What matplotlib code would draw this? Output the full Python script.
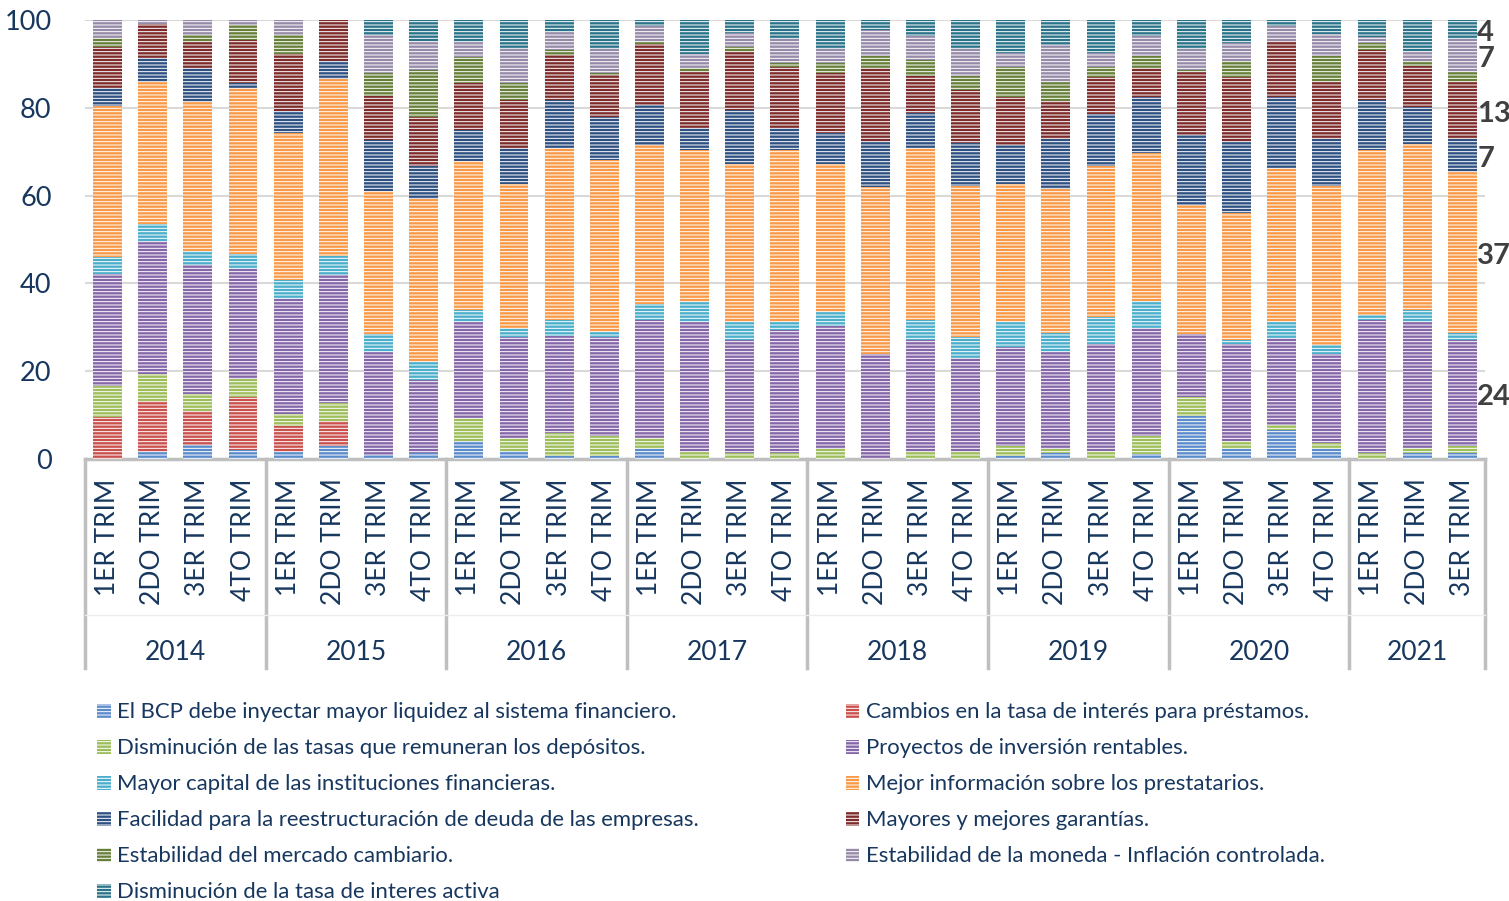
import matplotlib.pyplot as plt
import numpy as np

plt.rcParams['font.family'] = ['Lato', 'DejaVu Sans']
plt.rcParams['hatch.linewidth'] = 0.7

anios = ['2014', '2015', '2016', '2017', '2018', '2019', '2020', '2021']
trims_por_anio = [4, 4, 4, 4, 4, 4, 4, 3]
trimestres = ['1ER TRIM', '2DO TRIM', '3ER TRIM', '4TO TRIM']

series = [
    'El BCP debe inyectar mayor liquidez al sistema financiero.',
    'Cambios en la tasa de interés para préstamos.',
    'Disminución de las tasas que remuneran los depósitos.',
    'Proyectos de inversión rentables.',
    'Mayor capital de las instituciones financieras.',
    'Mejor información sobre los prestatarios.',
    'Facilidad para la reestructuración de deuda de las empresas.',
    'Mayores y mejores garantías.',
    'Estabilidad del mercado cambiario.',
    'Estabilidad de la moneda - Inflación controlada.',
    'Disminución de la tasa de interes activa',
]

# valores (%) por serie, de abajo hacia arriba en la pila
bcp = [0, 1.7, 3.2, 2.1, 1.5, 3.0, 0.8, 1.3, 4.0, 1.9, 0.6, 0.6, 2.3, 0, 0, 0,
       0, 0, 0, 0, 0.6, 1.3, 0, 1.1, 9.7, 2.3, 6.7, 2.3, 0, 1.3, 1.3]
tasa_prestamos = [9.5, 11.5, 7.7, 12.0, 6.1, 5.6, 0, 0, 0, 0, 0, 0, 0, 0, 0, 0,
                  0, 0, 0, 0, 0, 0, 0, 0, 0, 0, 0, 0, 0, 0, 0]
tasa_depositos = [7.2, 6.2, 3.8, 4.2, 2.7, 4.1, 0, 0, 5.3, 2.8, 5.3, 4.6, 2.4, 1.7, 1.3, 1.3,
                  2.3, 0, 1.7, 1.7, 2.3, 1.0, 1.9, 4.2, 4.5, 1.9, 1.1, 1.3, 1.3, 1.2, 1.7]
proyectos = [25.4, 30.3, 29.4, 25.0, 26.2, 29.1, 23.5, 16.6, 21.9, 23.1, 22.2, 22.6, 27.0, 29.5, 25.7, 28.0,
             28.1, 24.0, 25.3, 21.3, 22.7, 22.0, 24.3, 24.5, 14.2, 22.0, 19.8, 20.4, 30.4, 28.7, 24.0]
capital = [3.8, 3.8, 3.3, 3.5, 4.3, 4.4, 4.2, 4.2, 2.8, 2.1, 3.6, 1.1, 3.5, 4.5, 4.2, 1.9,
           3.1, 0, 4.7, 4.8, 5.6, 4.4, 6.1, 6.1, 0, 0.8, 3.6, 1.9, 1.2, 2.8, 1.7]
informacion = [34.5, 32.4, 34.0, 37.6, 33.5, 40.3, 32.6, 37.2, 33.9, 32.8, 39.2, 39.2, 36.3, 34.6, 36.1, 39.1,
               33.8, 38.0, 39.2, 34.3, 31.4, 32.7, 34.5, 33.8, 29.4, 29.0, 35.1, 36.2, 37.4, 37.7, 36.7]
reestructuracion = [4.2, 5.4, 7.6, 1.3, 4.9, 4.2, 11.5, 7.4, 7.0, 8.2, 10.8, 9.7, 9.1, 5.0, 12.2, 5.0,
                    7.0, 10.2, 8.0, 9.8, 8.9, 11.4, 11.9, 12.7, 16.1, 16.2, 16.1, 10.7, 11.4, 8.4, 7.4]
garantias = [9.3, 7.8, 6.1, 9.7, 13.0, 9.3, 10.1, 11.1, 10.8, 10.8, 10.3, 9.7, 13.9, 12.9, 13.3, 13.9,
             13.7, 16.8, 8.3, 12.1, 10.9, 8.8, 8.4, 6.6, 14.3, 14.9, 12.9, 13.1, 11.5, 9.4, 13.1]
cambiario = [1.9, 0, 1.5, 3.5, 4.4, 0, 5.3, 10.8, 5.8, 4.0, 1.2, 0.5, 0.6, 0.8, 1.0, 1.1,
             2.3, 2.8, 3.7, 3.2, 7.0, 4.3, 2.3, 2.8, 0.4, 3.6, 0, 5.9, 1.6, 1.2, 2.3]
moneda = [4.2, 0.9, 3.4, 1.1, 3.4, 0, 8.6, 6.7, 3.6, 7.6, 4.1, 5.3, 3.5, 3.2, 3.2, 5.3,
          3.0, 5.9, 5.4, 6.1, 3.1, 8.4, 3.1, 4.5, 4.7, 4.0, 3.3, 5.0, 1.4, 2.3, 7.4]
tasa_activa = [0, 0, 0, 0, 0, 0, 3.4, 4.7, 4.9, 6.7, 2.7, 6.7, 1.4, 7.8, 3.0, 4.4,
               6.7, 2.3, 3.7, 6.7, 7.5, 5.7, 7.5, 3.7, 6.7, 5.3, 1.4, 3.2, 3.8, 7.0, 4.4]

valores = [bcp, tasa_prestamos, tasa_depositos, proyectos, capital, informacion,
           reestructuracion, garantias, cambiario, moneda, tasa_activa]
colores = ['#5A8BCB', '#C9504C', '#9DBE5A', '#8566A8', '#4BAFCB', '#F89A48',
           '#2E5182', '#7D2C2B', '#66803A', '#958AA8', '#2A7389']

azul = '#17375E'

etiquetas = []
for n in trims_por_anio:
    etiquetas += trimestres[:n]
x = np.arange(len(etiquetas))

fig = plt.figure(figsize=(15.09, 9.01), dpi=100)
ax = fig.add_axes([0.0563, 0.4906, 0.9277, 0.4872])

# barras apiladas con rayas horizontales (hatch blanco)
base = np.zeros(len(x))
barras = []
for vals, col in zip(valores, colores):
    b = ax.bar(x, vals, 0.64, bottom=base, color=col, edgecolor='white',
               linewidth=0, hatch='-----', zorder=3)
    barras.append(b)
    base = base + np.array(vals)

ax.set_xlim(-0.5, len(x) - 0.5)
ax.set_ylim(0, 100)
ax.set_yticks(range(0, 101, 20))
ax.tick_params(axis='y', length=0, labelsize=19.5, labelcolor=azul, pad=24)
ax.yaxis.grid(True, color='#D9D9D9', linewidth=1.5, zorder=0)

ax.set_xticks(x)
ax.set_xticklabels(etiquetas, rotation=90, fontsize=19, color=azul)
ax.tick_params(axis='x', length=0, pad=14)

for s in ['top', 'right', 'left']:
    ax.spines[s].set_visible(False)
ax.spines['bottom'].set_color('#BFBFBF')
ax.spines['bottom'].set_linewidth(2.5)

# separadores de años y etiquetas de años
trans = ax.get_xaxis_transform()
inicio = 0
for anio, n in zip(anios, trims_por_anio):
    ax.plot([inicio - 0.5, inicio - 0.5], [0, -0.476], transform=trans,
            color='#BFBFBF', linewidth=2.5, clip_on=False)
    ax.text(inicio + (n - 1) / 2, -0.44, anio, transform=trans, ha='center',
            va='center', fontsize=19, color=azul)
    inicio += n
ax.plot([inicio - 0.5, inicio - 0.5], [0, -0.476], transform=trans,
        color='#BFBFBF', linewidth=2.5, clip_on=False)
ax.plot([-0.5, inicio - 0.5], [-0.355, -0.355], transform=trans,
        color='#EEEEEE', linewidth=1, clip_on=False)

# etiquetas del último trimestre
ultimo = len(x) - 1
acum = 0
for vals in valores:
    v = vals[ultimo]
    if v >= 4:
        ax.text(ultimo + 0.33, acum + v / 2 - 0.8, f'{v:.0f}', ha='left', va='center',
                fontsize=21, fontweight='bold', color='#404040', clip_on=False)
    acum += v

# leyenda en dos columnas
izq = [0, 2, 4, 6, 8, 10]
der = [1, 3, 5, 7, 9]
for idx, xpos in [(izq, 0.0646), (der, 0.5606)]:
    fig.legend([barras[i] for i in idx], [series[i] for i in idx],
               loc='upper left', bbox_to_anchor=(xpos, 0.2205), frameon=False,
               fontsize=15.9, labelcolor=azul, handlelength=0.6, handleheight=0.6,
               handletextpad=0.3, labelspacing=0.725, borderpad=0, borderaxespad=0)

fig.savefig('out.png', dpi=100)
